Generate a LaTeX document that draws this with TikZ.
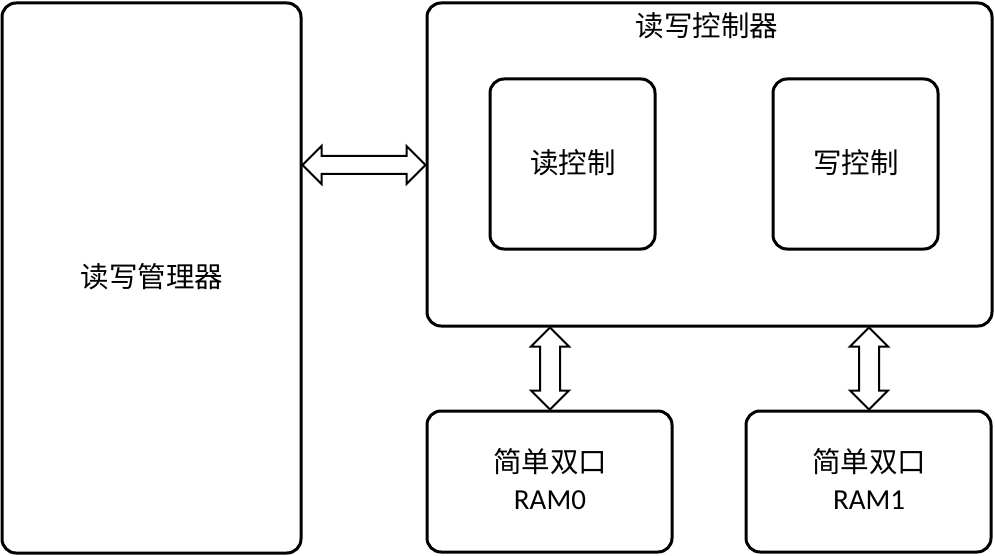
\documentclass[tikz,border=0pt]{standalone}
\usepackage{fontspec}
\newfontfamily\cjk{Noto Sans CJK SC}
\newfontfamily\lat{Carlito}
\usetikzlibrary{calc}
\tikzset{
  box/.style={draw=black, line width=3pt, rounded corners=14pt, fill=white, inner sep=0pt},
  lbl/.style={font=\cjk\fontsize{28.5}{34}\selectfont, inner sep=0pt},
  ramlbl/.style={font=\lat\fontsize{29}{34}\selectfont, inner sep=0pt},
  dbl/.style={draw=black, line width=2pt, fill=white, line join=miter}
}
\begin{document}
\begin{tikzpicture}[x=1pt,y=-1pt]
\useasboundingbox (0,0) rectangle (995,556);
% boxes
\node[box, minimum width=299pt, minimum height=550pt] (mgr) at (151.5,278) {};
\node[lbl] (mgrT) at (152,277) {读写管理器};
\node[box, minimum width=565pt, minimum height=323pt] (ctrl) at (709.5,164.5) {};
\node[lbl] (ctrlT) at (707,26) {读写控制器};
\node[box, minimum width=165pt, minimum height=170pt] (rd) at (572.5,164) {};
\node[lbl] (rdT) at (573,163) {读控制};
\node[box, minimum width=165pt, minimum height=170pt] (wr) at (855.5,164) {};
\node[lbl] (wrT) at (856,163) {写控制};
\node[box, minimum width=245pt, minimum height=141pt] (ram0) at (549.5,481.5) {};
\node[lbl] (ram0T) at (550,462) {简单双口};
\node[ramlbl] (ram0N) at (550,500) {RAM0};
\node[box, minimum width=245pt, minimum height=141pt] (ram1) at (868.5,481.5) {};
\node[lbl] (ram1T) at (869,462) {简单双口};
\node[ramlbl] (ram1N) at (869,500) {RAM1};
% connector end points
\coordinate (hA) at (mgr.east |- 0,165);
\coordinate (hB) at (ctrl.west |- 0,165);
\coordinate (v0A) at (550,0 |- ctrl.south);
\coordinate (v0B) at (550,0 |- ram0.north);
\coordinate (v1A) at (869,0 |- ctrl.south);
\coordinate (v1B) at (869,0 |- ram1.north);
% horizontal double arrow
\draw[dbl] let \p1=(hA), \p2=(hB) in
  (\x1,\y1) -- (\x1+19pt,\y1+19pt) -- (\x1+19pt,\y1+9pt) -- (\x2-19pt,\y1+9pt)
  -- (\x2-19pt,\y1+19pt) -- (\x2,\y1) -- (\x2-19pt,\y1-19pt) -- (\x2-19pt,\y1-9pt)
  -- (\x1+19pt,\y1-9pt) -- (\x1+19pt,\y1-19pt) -- cycle;
% vertical double arrows
\foreach \a/\b in {v0A/v0B, v1A/v1B}{
\draw[dbl] let \p1=(\a), \p2=(\b) in
  (\x1,\y1) -- (\x1+19pt,\y1-19pt) -- (\x1+10pt,\y1-19pt) -- (\x1+10pt,\y2+19pt)
  -- (\x1+19pt,\y2+19pt) -- (\x1,\y2) -- (\x1-19pt,\y2+19pt) -- (\x1-10pt,\y2+19pt)
  -- (\x1-10pt,\y1-19pt) -- (\x1-19pt,\y1-19pt) -- cycle;
}
\end{tikzpicture}
\end{document}
